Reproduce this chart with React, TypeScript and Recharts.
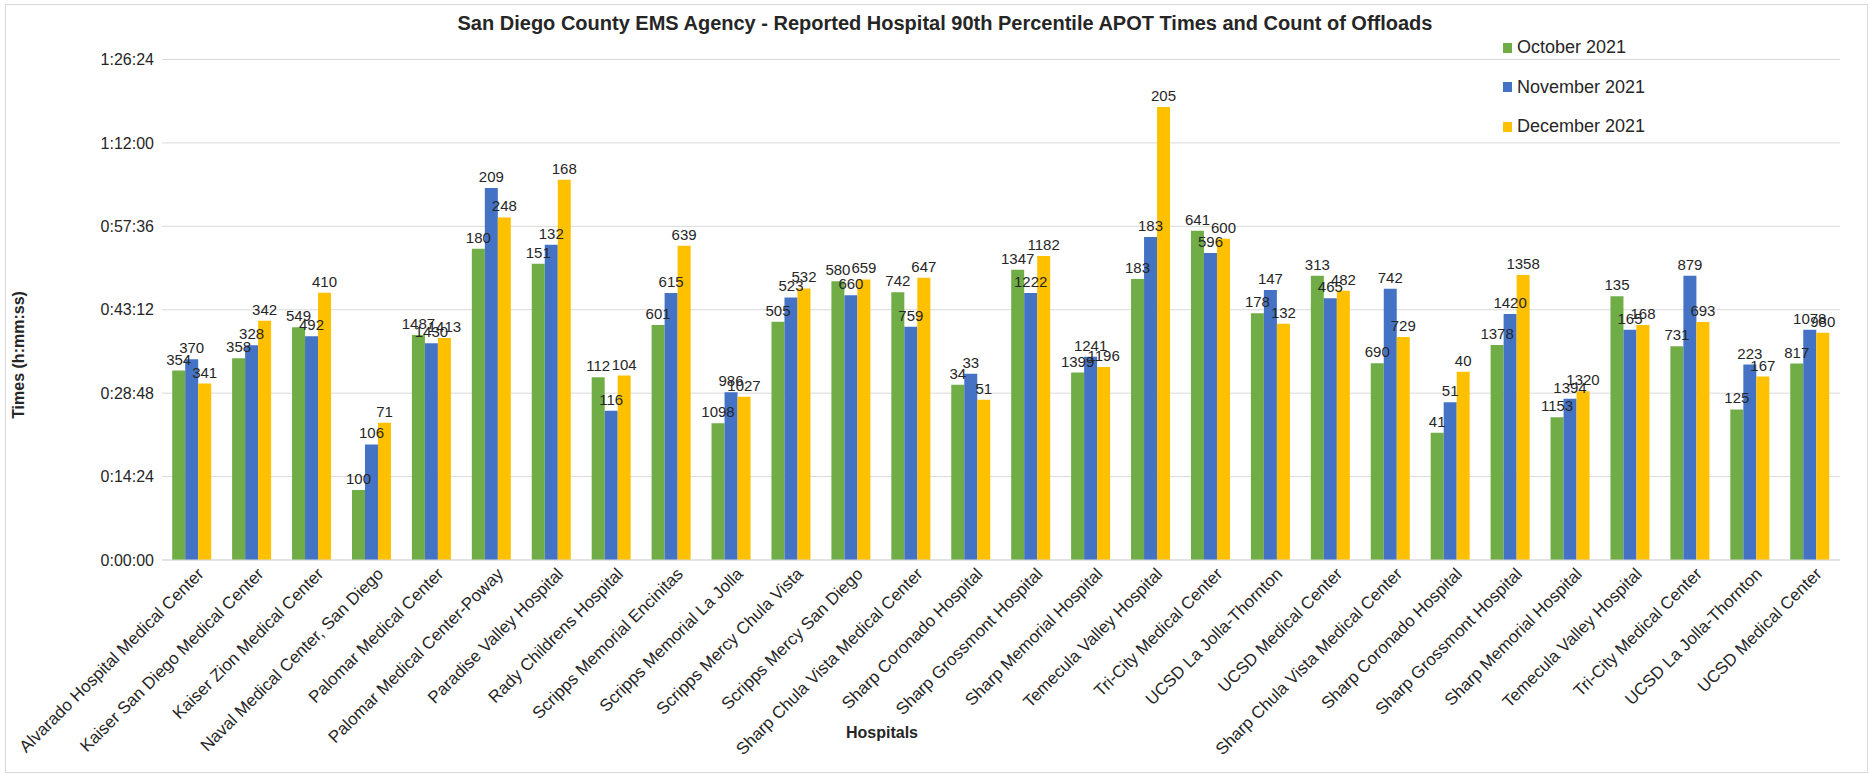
import { Bar, BarChart, CartesianGrid, LabelList, XAxis, YAxis } from "recharts";

const hospitals = [
  "Alvarado Hospital Medical Center",
  "Kaiser San Diego Medical Center",
  "Kaiser Zion Medical Center",
  "Naval Medical Center, San Diego",
  "Palomar Medical Center",
  "Palomar Medical Center-Poway",
  "Paradise  Valley Hospital",
  "Rady Childrens Hospital",
  "Scripps Memorial Encinitas",
  "Scripps Memorial La Jolla",
  "Scripps Mercy Chula Vista",
  "Scripps Mercy San Diego",
  "Sharp Chula Vista Medical Center",
  "Sharp Coronado Hospital",
  "Sharp Grossmont Hospital",
  "Sharp Memorial Hospital",
  "Temecula Valley Hospital",
  "Tri-City Medical Center",
  "UCSD La Jolla-Thornton",
  "UCSD Medical Center",
  "Sharp Chula Vista Medical Center",
  "Sharp Coronado Hospital",
  "Sharp Grossmont Hospital",
  "Sharp Memorial Hospital",
  "Temecula Valley Hospital",
  "Tri-City Medical Center",
  "UCSD La Jolla-Thornton",
  "UCSD Medical Center",
];

// 90th percentile APOT, in seconds
const octTimes = [1962, 2089, 2410, 724, 2331, 3224, 3069, 1893, 2435, 1417, 2469, 2886, 2772, 1814, 3007, 1941, 2911, 3410, 2555, 2945, 2038, 1318, 2228, 1479, 2731, 2213, 1559, 2035];
const novTimes = [2079, 2224, 2317, 1197, 2245, 3852, 3265, 1545, 2766, 1738, 2720, 2741, 2417, 1928, 2766, 2104, 3345, 3179, 2797, 2710, 2810, 1634, 2549, 1669, 2386, 2945, 2024, 2386];
const decTimes = [1828, 2479, 2769, 1421, 2300, 3548, 3938, 1910, 3255, 1690, 2813, 2906, 2924, 1659, 3149, 2000, 4693, 3327, 2448, 2790, 2311, 1949, 2952, 1748, 2435, 2466, 1900, 2355];

// count of offloads (bar labels)
const octCounts = [354, 358, 549, 100, 1487, 180, 151, 112, 601, 1098, 505, 580, 742, 34, 1347, 1399, 183, 641, 178, 313, 690, 41, 1378, 1153, 135, 731, 125, 817];
const novCounts = [370, 328, 492, 106, 1430, 209, 132, 116, 615, 986, 523, 660, 759, 33, 1222, 1241, 183, 596, 147, 465, 742, 51, 1420, 1394, 165, 879, 223, 1078];
const decCounts = [341, 342, 410, 71, 1413, 248, 168, 104, 639, 1027, 532, 659, 647, 51, 1182, 1196, 205, 600, 132, 482, 729, 40, 1358, 1320, 168, 693, 167, 980];

const yTicks = [0, 864, 1728, 2592, 3456, 4320, 5184];

const series = [
  { key: "oct", label: "October 2021", color: "#70AD47" },
  { key: "nov", label: "November 2021", color: "#4472C4" },
  { key: "dec", label: "December 2021", color: "#FFC000" },
];

const data = hospitals.map((name, i) => ({
  name,
  oct: octTimes[i],
  nov: novTimes[i],
  dec: decTimes[i],
  octN: octCounts[i],
  novN: novCounts[i],
  decN: decCounts[i],
}));

const FONT = "'Liberation Sans', Arial, sans-serif";
const INK = "#262626";

const hms = (s: number) => {
  const h = Math.floor(s / 3600);
  const m = Math.floor((s % 3600) / 60);
  const sec = s % 60;
  return `${h}:${String(m).padStart(2, "0")}:${String(sec).padStart(2, "0")}`;
};

const HospitalTick = ({ x, y, payload }: any) => (
  <g transform={`translate(${x},${y})`}>
    <text
      x={4}
      y={0}
      dy={14}
      textAnchor="end"
      transform="rotate(-45)"
      fontSize={17}
      fontFamily={FONT}
      fill={INK}
    >
      {payload.value}
    </text>
  </g>
);

export default function App() {
  return (
    <div
      style={{
        position: "relative",
        width: 1870,
        height: 776,
        background: "#fff",
        fontFamily: FONT,
      }}
    >
      <style>{"body{margin:0}"}</style>
      <div
        style={{
          position: "absolute",
          left: 5,
          top: 4,
          width: 1861,
          height: 767,
          border: "1.5px solid #d9d9d9",
          pointerEvents: "none",
        }}
      />
      <div
        style={{
          position: "absolute",
          top: 12,
          left: 0,
          width: 1890,
          textAlign: "center",
          fontWeight: "bold",
          fontSize: 20,
          color: INK,
        }}
      >
        San Diego County EMS Agency - Reported Hospital 90th Percentile APOT Times and Count of Offloads
      </div>

      <div style={{ position: "absolute", left: 1503, top: 37 }}>
        {series.map((s, i) => (
          <div
            key={s.key}
            style={{
              position: "absolute",
              top: i * 39.5,
              display: "flex",
              alignItems: "center",
              whiteSpace: "nowrap",
              fontSize: 18,
              color: INK,
            }}
          >
            <span style={{ display: "inline-block", width: 9, height: 10, background: s.color, marginRight: 5 }} />
            {s.label}
          </div>
        ))}
      </div>

      <div
        style={{
          position: "absolute",
          left: 19,
          top: 355,
          transform: "translate(-50%, -50%) rotate(-90deg)",
          fontWeight: "bold",
          fontSize: 16,
          whiteSpace: "nowrap",
          color: INK,
        }}
      >
        Times (h:mm:ss)
      </div>
      <div
        style={{
          position: "absolute",
          left: 882,
          top: 733,
          transform: "translate(-50%, -50%)",
          fontWeight: "bold",
          fontSize: 16,
          color: INK,
        }}
      >
        Hospitals
      </div>

      <div style={{ position: "absolute", left: 0, top: 0 }}>
        <BarChart
          width={1870}
          height={776}
          data={data}
          margin={{ top: 59.5, right: 30, left: 12, bottom: 15 }}
          barCategoryGap="17%"
          barGap={0}
        >
          <CartesianGrid stroke="#d9d9d9" vertical={false} />
          <XAxis
            dataKey="name"
            interval={0}
            tick={<HospitalTick />}
            tickLine={false}
            axisLine={{ stroke: "#d9d9d9" }}
            height={201}
            allowDuplicatedCategory
          />
          <YAxis
            width={150}
            domain={[0, 5184]}
            ticks={yTicks}
            tickFormatter={hms}
            axisLine={false}
            tickLine={false}
            tick={{ fill: INK, fontSize: 16, fontFamily: FONT }}
          />
          {series.map((s) => (
            <Bar key={s.key} dataKey={s.key} fill={s.color} isAnimationActive={false}>
              <LabelList
                dataKey={`${s.key}N`}
                position="top"
                offset={6}
                fill={INK}
                fontSize={15}
                fontFamily={FONT}
              />
            </Bar>
          ))}
        </BarChart>
      </div>
    </div>
  );
}
